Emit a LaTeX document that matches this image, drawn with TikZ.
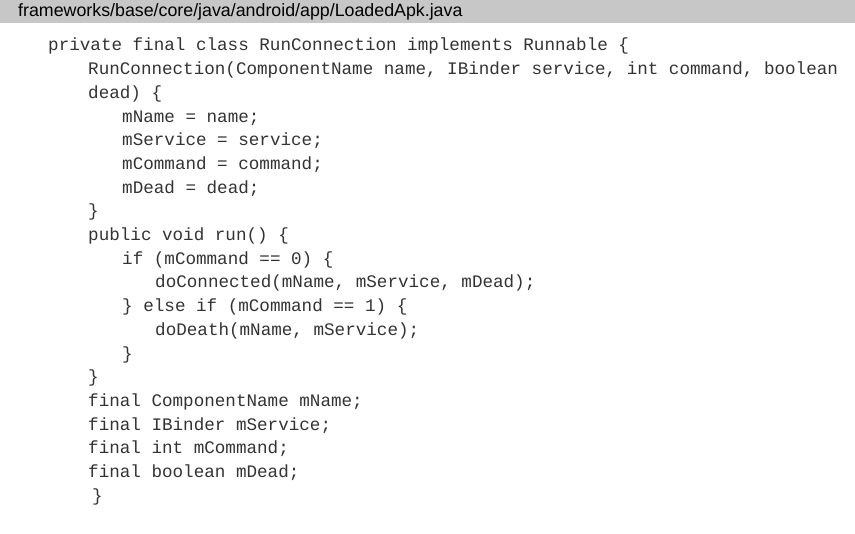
\documentclass[tikz,border=0pt]{standalone}
\usepackage{fontspec}
\setmainfont{Liberation Sans}
\newfontfamily\codefont{Liberation Mono}
\begin{document}
\begin{tikzpicture}[x=1pt,y=1pt,
  code/.style={anchor=base west,inner sep=0pt,font=\codefont\fontsize{17.6}{19}\selectfont,text=black!80},
  title/.style={anchor=base west,inner sep=0pt,font=\fontsize{17.8}{19}\selectfont}]
\useasboundingbox (0,0) rectangle (855,-534);
\fill [black!22] (0,0) rectangle (855,-23);
\node [title] (file) at (18,-17) {frameworks/base/core/java/android/app/LoadedApk.java};
% listing, one node per line
\node [code] (l1) at (48,-51) {private final class RunConnection implements Runnable \{};
\node [code] (l2) at (88,-74.7) {RunConnection(ComponentName name, IBinder service, int command, boolean};
\node [code] (l3) at (88,-98.4) {dead) \{};
\node [code] (l4) at (122,-122.1) {mName = name;};
\node [code] (l5) at (122,-145.8) {mService = service;};
\node [code] (l6) at (122,-169.5) {mCommand = command;};
\node [code] (l7) at (122,-193.2) {mDead = dead;};
\node [code] (l8) at (88,-216.9) {\}};
\node [code] (l9) at (88,-240.6) {public void run() \{};
\node [code] (l10) at (122,-264.3) {if (mCommand == 0) \{};
\node [code] (l11) at (155,-288) {doConnected(mName, mService, mDead);};
\node [code] (l12) at (122,-311.7) {\} else if (mCommand == 1) \{};
\node [code] (l13) at (155,-335.4) {doDeath(mName, mService);};
\node [code] (l14) at (122,-359.1) {\}};
\node [code] (l15) at (88,-382.8) {\}};
\node [code] (l16) at (88,-406.5) {final ComponentName mName;};
\node [code] (l17) at (88,-430.2) {final IBinder mService;};
\node [code] (l18) at (88,-453.9) {final int mCommand;};
\node [code] (l19) at (88,-477.6) {final boolean mDead;};
\node [code] (l20) at (92,-501.3) {\}};
\end{tikzpicture}
\end{document}
